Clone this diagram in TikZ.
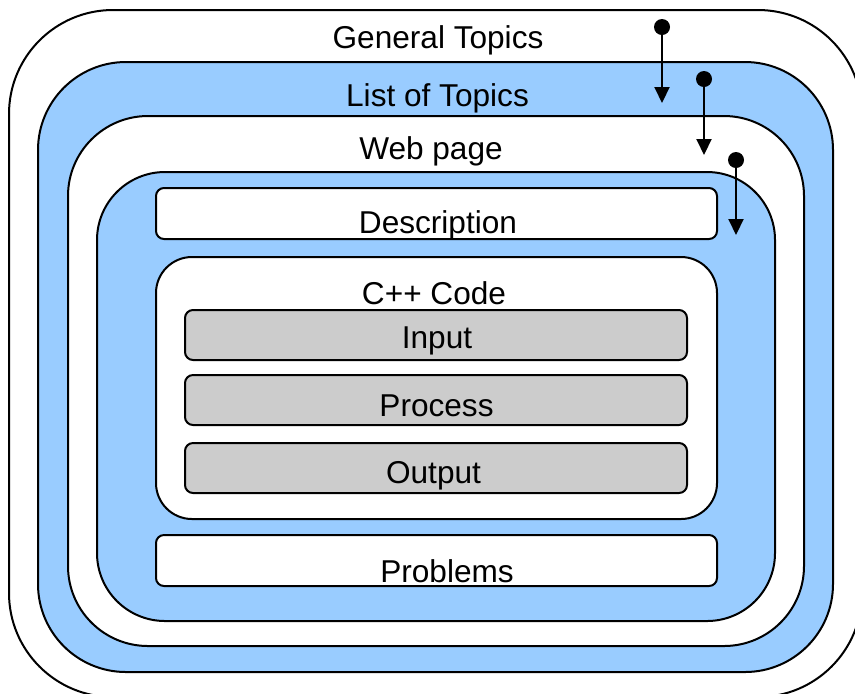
\documentclass[tikz,border=0pt]{standalone}
\usepackage{fontspec}
\setmainfont{Liberation Sans}
\usepackage{xcolor}
\usepackage{tikz}
\usetikzlibrary{arrows.meta}
\definecolor{layerblue}{HTML}{99CCFF}
\definecolor{stepgray}{HTML}{CCCCCC}

\begin{document}
\begin{tikzpicture}[
          x=0.5pt,y=-0.5pt,
          every node/.style={font=\fontsize{15.8}{18}\selectfont},
          layer/.style={draw,line width=1pt},
          field/.style={draw,line width=1pt,rounded corners=4pt,fill=white},
          stepbar/.style={draw,line width=1pt,rounded corners=4pt,fill=stepgray},
          title/.style={anchor=base,inner sep=0pt},
          pin/.style={circle,fill=black,inner sep=0pt,minimum size=8pt},
          flow/.style={-{Triangle[width=7.5pt,length=8pt]},line width=1pt},
      ]
        \useasboundingbox (0,0) rectangle (855,693);
        \clip (0,0) rectangle (855,693);

        % nested layers, outermost first
        \draw[layer,fill=white,rounded corners=52pt] (9,10) rectangle (862,697);
        \draw[layer,fill=layerblue,rounded corners=44pt] (38,62) rectangle (833,672);
        \draw[layer,fill=white,rounded corners=40pt] (68,116) rectangle (804,646);
        \draw[layer,fill=layerblue,rounded corners=34pt] (97,172) rectangle (775,621);

        \node[title] (general) at (438,48.5) {General Topics};
        \node[title] (list) at (437.5,106) {List of Topics};
        \node[title] (web) at (431,159.5) {Web page};

        % page contents
        \draw[field] (156,188) rectangle (717,239);
        \node[title] (desc) at (438,233) {Description};

        \draw[layer,fill=white,rounded corners=18pt] (156,257) rectangle (717,519);
        \node[title] (code) at (434,304) {C++ Code};

        \draw[stepbar] (185,310) rectangle (687,360);
        \node[title] (input) at (437,348) {Input};
        \draw[stepbar] (185,375) rectangle (687,425);
        \node[title] (process) at (436.5,416) {Process};
        \draw[stepbar] (185,443) rectangle (687,493);
        \node[title] (output) at (433.5,483) {Output};

        \draw[field] (156,535) rectangle (717,586);
        \node[title] (problems) at (447,582) {Problems};

        % drill-down arrows
        \node[pin] (p1) at (662,27) {};
        \node[pin] (p2) at (704,79) {};
        \node[pin] (p3) at (736,160) {};
        \coordinate (t1) at (662,103);
        \coordinate (t2) at (704,155);
        \coordinate (t3) at (736,235);

        \draw[flow] (p1.center) -- (t1);
        \draw[flow] (p2.center) -- (t2);
        \draw[flow] (p3.center) -- (t3);
      \end{tikzpicture}
\end{document}
